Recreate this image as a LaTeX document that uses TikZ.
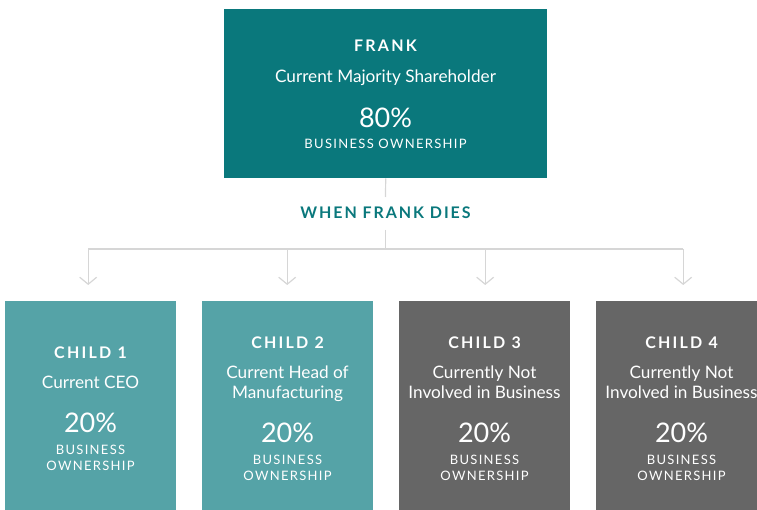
\documentclass[tikz,border=0pt]{standalone}
\usepackage{fontspec}
\setmainfont{Lato}
\usetikzlibrary{arrows.meta}
\definecolor{deepteal}{HTML}{0A787C}
\definecolor{softteal}{HTML}{55A3A7}
\definecolor{slate}{HTML}{666666}
\definecolor{wire}{HTML}{D6D6D6}
\tikzset{
  panel/.style={rectangle, draw=none, inner sep=0pt, anchor=north west},
  heading/.style={anchor=base, inner sep=0pt, text=white,
    font=\fontsize{16}{16}\selectfont\bfseries\addfontfeatures{LetterSpace=14}},
  role/.style={anchor=base, inner sep=0pt, text=white,
    font=\fontsize{17.2}{17.2}\selectfont},
  share/.style={anchor=base, inner sep=0pt, text=white,
    font=\fontsize{27}{27}\selectfont},
  caption/.style={anchor=base, inner sep=0pt, text=white,
    font=\fontsize{13}{13}\selectfont\addfontfeatures{LetterSpace=10}},
  event/.style={anchor=base, inner sep=0pt, text=deepteal,
    font=\fontsize{16}{16}\selectfont\bfseries\addfontfeatures{LetterSpace=12}},
  link/.style={draw=wire, line width=1.2pt},
  drop/.style={link, -{Straight Barb[length=7pt, width=17pt, line width=1.2pt]}}
}
\begin{document}
\begin{tikzpicture}[x=1pt, y=-1pt]
  \useasboundingbox (0,0) rectangle (757,510);
  \clip (0,0) rectangle (757,510);

  % owner box
  \node[panel, fill=deepteal, minimum width=323pt, minimum height=169pt] (frank) at (224,9) {};
  \node[heading] (frankname) at (385.5,52) {FRANK};
  \node[role]    (frankrole) at (385.5,83) {Current Majority Shareholder};
  \node[share]   (frankpct)  at (385.5,127.3) {80\%};
  \node[caption] (frankcap)  at (385.5,148.3) {BUSINESS OWNERSHIP};

  % event label
  \node[event] (dies) at (385.5,219) {WHEN FRANK DIES};
  \coordinate (diestop) at (385.5,197);
  \coordinate (diesbot) at (385.5,230);
  \coordinate (hub) at (385.5,249);

  % heirs
  \node[panel, fill=softteal, minimum width=171pt, minimum height=230pt] (c1) at (5,301) {};
  \node[panel, fill=softteal, minimum width=171pt, minimum height=230pt] (c2) at (202,301) {};
  \node[panel, fill=slate,    minimum width=171pt, minimum height=230pt] (c3) at (399,301) {};
  \node[panel, fill=slate,    minimum width=171pt, minimum height=230pt] (c4) at (596,301) {};

  % child 1
  \node[heading] (c1name) at (90.5,358.3) {CHILD 1};
  \node[role]    (c1role) at (90.5,388)   {Current CEO};
  \node[share]   (c1pct)  at (90.5,432.7) {20\%};
  \node[caption] (c1capa) at (90.5,454.3) {BUSINESS};
  \node[caption] (c1capb) at (90.5,470.7) {OWNERSHIP};

  % child 2
  \node[heading] (c2name)  at (287.5,348.3) {CHILD 2};
  \node[role]    (c2rolea) at (287.5,378.3) {Current Head of};
  \node[role]    (c2roleb) at (287.5,398.3) {Manufacturing};
  \node[share]   (c2pct)   at (287.5,442.7) {20\%};
  \node[caption] (c2capa)  at (287.5,464.3) {BUSINESS};
  \node[caption] (c2capb)  at (287.5,480)   {OWNERSHIP};

  % child 3
  \node[heading] (c3name)  at (484.5,348.3) {CHILD 3};
  \node[role]    (c3rolea) at (484.5,378.3) {Currently Not};
  \node[role]    (c3roleb) at (484.5,398.3) {Involved in Business};
  \node[share]   (c3pct)   at (484.5,442.7) {20\%};
  \node[caption] (c3capa)  at (484.5,464.3) {BUSINESS};
  \node[caption] (c3capb)  at (484.5,480)   {OWNERSHIP};

  % child 4
  \node[heading] (c4name)  at (681.5,348.3) {CHILD 4};
  \node[role]    (c4rolea) at (681.5,378.3) {Currently Not};
  \node[role]    (c4roleb) at (681.5,398.3) {Involved in Business};
  \node[share]   (c4pct)   at (681.5,442.7) {20\%};
  \node[caption] (c4capa)  at (681.5,464.3) {BUSINESS};
  \node[caption] (c4capb)  at (681.5,480)   {OWNERSHIP};

  % connectors
  \draw[link] (frank.south) -- (diestop);
  \draw[link] (diesbot) -- (hub);
  \draw[link] ([xshift=-2.5pt]c1.north |- hub) -- ([xshift=1.5pt]c4.north |- hub);
  \foreach \k/\dx in {c1/-2.5, c2/-0.5, c3/0.5, c4/1.5}
    \draw[drop, shorten >=16pt] ([xshift=\dx pt]\k.north |- hub) -- ([xshift=\dx pt]\k.north);
\end{tikzpicture}
\end{document}
